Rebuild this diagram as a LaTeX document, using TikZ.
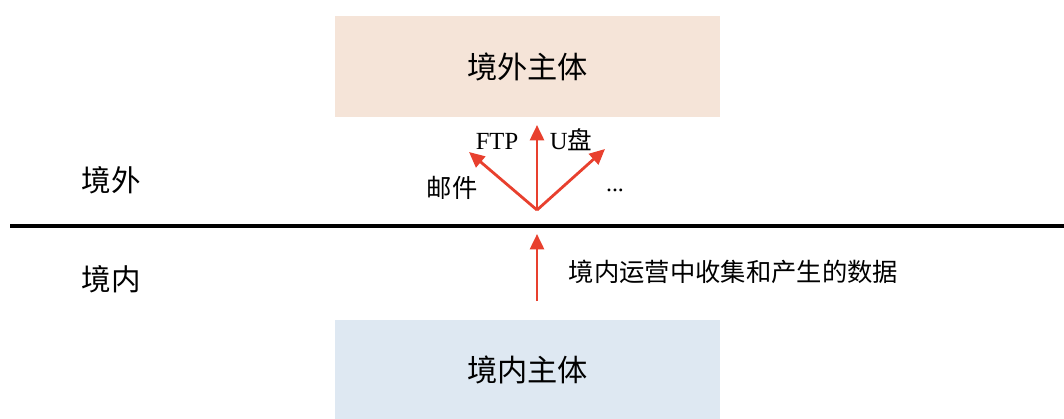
\documentclass[tikz,border=0pt]{standalone}
\usepackage{fontspec}
\setmainfont{Liberation Serif}
\newfontfamily\cjk{Noto Sans CJK SC}
\usetikzlibrary{arrows.meta}
\definecolor{outbox}{HTML}{F5E4D8}
\definecolor{inbox}{HTML}{DEE8F2}
\definecolor{flow}{HTML}{E8402E}
\tikzset{
  party/.style={fill=#1, draw=none, minimum width=9.625cm, minimum height=2.525cm,
    font=\cjk\fontsize{21.5}{26}\selectfont},
  region/.style={font=\cjk\fontsize{21}{25}\selectfont},
  route/.style={font=\cjk\fontsize{18}{22}\selectfont},
  flowarrow/.style={draw=flow, line width=2pt, -{Triangle[length=11pt,width=10pt]}}
}

\begin{document}
\begin{tikzpicture}[x=0.025cm, y=-0.025cm]
\useasboundingbox (0,0) rectangle (1064,419);
  % the two parties
  \node[party=outbox] (abroad) at (527.5,66.5) {境外主体};
  \node[party=inbox, minimum height=2.475cm] (home) at (527.5,369.5) {境内主体};
  \coordinate (hometop) at (537,301);

  % border
  \coordinate (bl) at (10,226);
  \coordinate (br) at (1064,226);
  \draw[line width=2.2pt] (bl) -- (br);
  \node[region] (out) at (111,180) {境外};
  \node[region] (in) at (111,279) {境内};

  % data leaving the country
  \coordinate (lineup) at (537,234);
  \draw[flowarrow] (hometop) -- (lineup);
  \node[route, anchor=west] (data) at (564,272) {境内运营中收集和产生的数据};

  \coordinate (fan) at (537,210);
  \coordinate (mailtip) at (469,152);
  \coordinate (ftptip) at (537,125);
  \coordinate (utip) at (605,149);
  \foreach \t in {mailtip,ftptip,utip}
    \draw[flowarrow] (fan) -- (\t);
  \node[route] (mail) at (452,188) {邮件};
  \node[font=\fontsize{17.5}{20}\selectfont] (ftp) at (497,141) {FTP};
  \node[font=\fontsize{17.5}{20}\selectfont] (udisk) at (571,140) {U\cjk 盘};
  \node[font=\fontsize{17}{20}\selectfont] (more) at (615,190) {...};
\end{tikzpicture}
\end{document}
